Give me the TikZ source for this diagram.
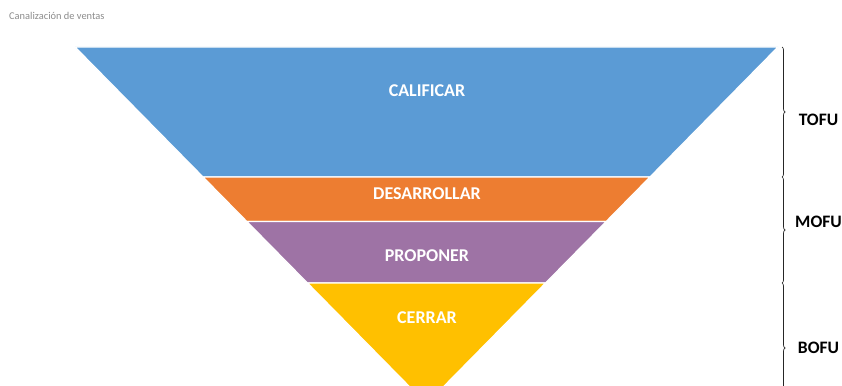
\documentclass[tikz,border=0pt]{standalone}
\usepackage{fontspec}
\setmainfont{Carlito}
\usetikzlibrary{calc,decorations.pathreplacing}
\definecolor{fblue}{HTML}{5B9BD5}
\definecolor{forange}{HTML}{ED7D31}
\definecolor{fpurple}{HTML}{9E73A5}
\definecolor{fyellow}{HTML}{FFC000}
\definecolor{titlegray}{HTML}{8C8C8C}
\tikzset{
  band/.style={fill=#1, draw=white, line width=1.3pt, line join=miter},
  stagelabel/.style={text=white, font=\fontsize{18}{21}\selectfont\bfseries, inner sep=0pt},
  phaselabel/.style={text=black, font=\fontsize{17.5}{21}\selectfont\bfseries, inner sep=0pt},
  phasebrace/.style={draw=black!85, line width=0.7pt, decorate, decoration={brace, amplitude=3pt}},
}
\begin{document}
\begin{tikzpicture}[x=1pt, y=-1pt]
  \useasboundingbox (0,0) rectangle (842,385);
  \clip (0,0) rectangle (842,385);
  \fill[white] (0,0) rectangle (842,385);

  % funnel corners (apex below the visible area)
  \coordinate (tl) at (75,47);    \coordinate (tr) at (778,47);
  \coordinate (al) at (203,177);  \coordinate (ar) at (650,177);
  \coordinate (bl) at (246.8,221.5); \coordinate (br) at (606.2,221.5);
  \coordinate (cl) at (307.4,283); \coordinate (cr) at (545.6,283);
  \coordinate (apex) at (426.5,404);

  \path[band=fblue]   (tl) -- (tr) -- (ar) -- (al) -- cycle;
  \path[band=forange] (al) -- (ar) -- (br) -- (bl) -- cycle;
  \path[band=fpurple] (bl) -- (br) -- (cr) -- (cl) -- cycle;
  \path[band=fyellow] (cl) -- (cr) -- (apex) -- cycle;

  \node[stagelabel] (calificar)   at (427,91)  {CALIFICAR};
  \node[stagelabel] (desarrollar) at (427,194) {DESARROLLAR};
  \node[stagelabel] (proponer)    at (427,256) {PROPONER};
  \node[stagelabel] (cerrar)      at (427,318) {CERRAR};

  % phase braces on the right
  \coordinate (b0) at (782,47);
  \coordinate (b1) at (782,177);
  \coordinate (b2) at (782,283);
  \coordinate (b3) at (782,413);
  \draw[phasebrace] (b0) -- (b1);
  \draw[phasebrace] (b1) -- (b2);
  \draw[phasebrace] (b2) -- (b3);

  \node[phaselabel] (tofu) at (818.5,120) {TOFU};
  \node[phaselabel] (mofu) at (818.5,222) {MOFU};
  \node[phaselabel] (bofu) at (818.5,348) {BOFU};

  \node[anchor=west, text=titlegray, font=\fontsize{10.4}{12}\selectfont, inner sep=0pt] (title) at (9,16) {Canalización de ventas};
\end{tikzpicture}
\end{document}
